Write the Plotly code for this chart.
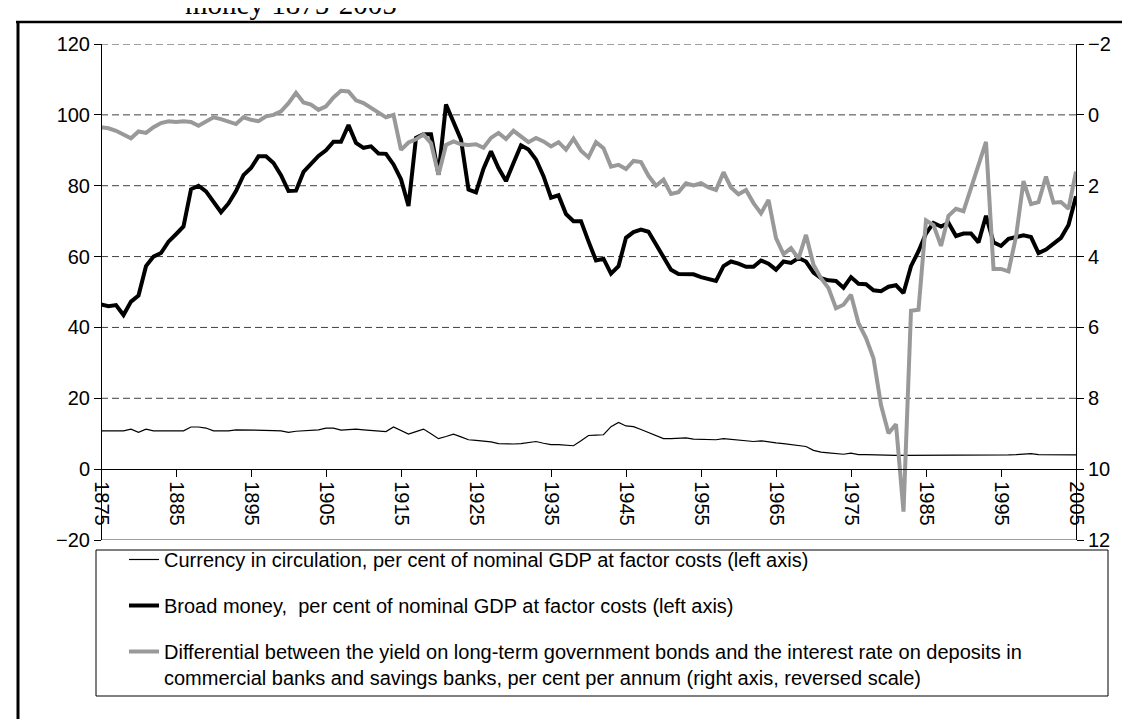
import plotly.graph_objects as go

# ---------------- data ----------------
years = list(range(1875, 2006))

currency = [
    10.8, 10.8, 10.9, 10.8, 11.3, 10.4, 11.3, 10.8, 10.8, 10.8,
    10.8, 10.8, 11.9, 11.9, 11.6, 10.8, 10.8, 10.8, 11.1, 11.1,
    11.1, 11.1, 11.1, 10.9, 10.8, 10.4, 10.7, 10.9, 11.0, 11.1,
    11.6, 11.6, 11.0, 11.1, 11.3, 11.1, 10.9, 10.8, 10.6, 11.9,
    10.9, 9.9, 10.6, 11.3, 10.0, 8.6, 9.2, 9.9, 9.1, 8.3,
    8.1, 8.0, 7.7, 7.2, 7.1, 7.1, 7.2, 7.5, 7.8, 7.3,
    6.9, 6.9, 6.8, 6.6, 8.0, 9.5, 9.6, 9.7, 12.0, 13.2,
    12.2, 12.0, 11.2, 10.4, 9.5, 8.6, 8.6, 8.8, 8.8, 8.5,
    8.4, 8.3, 8.3, 8.6, 8.4, 8.3, 8.1, 7.8, 8.0, 7.6,
    7.4, 7.2, 7.0, 6.7, 6.4, 5.3, 4.8, 4.6, 4.3, 4.2,
    4.5, 4.1, 4.1, 4.0, 4.0, 4.0, 3.9, 3.9, 3.9, 3.9,
    3.9, 3.9, 3.9, 3.9, 3.9, 3.9, 3.9, 3.8, 3.9, 4.0,
    4.0, 4.0, 4.1, 4.2, 4.4, 4.1, 4.1, 4.0, 4.0, 4.0,
    4.0,
]

broad_money = [
    46.5, 46.0, 46.3, 43.5, 47.3, 49.0, 57.3, 60.0, 61.0, 64.2,
    66.3, 68.5, 79.0, 80.0, 78.4, 75.6, 72.5, 75.0, 78.5, 83.0,
    85.0, 88.3, 88.3, 86.4, 83.0, 78.5, 78.6, 83.9, 86.0, 88.4,
    90.0, 92.4, 92.4, 97.1, 92.1, 90.7, 91.1, 89.1, 89.0, 86.0,
    81.8, 74.3, 93.5, 94.5, 94.5, 83.1, 102.9, 98.2, 93.0, 78.9,
    78.1, 84.8, 89.7, 85.0, 81.3, 86.4, 91.4, 90.2, 87.4, 82.7,
    76.6, 77.3, 72.0, 70.0, 70.0, 64.3, 58.9, 59.4, 55.2, 57.3,
    65.3, 66.9, 67.6, 67.0, 63.4, 59.6, 56.3, 55.1, 55.0, 55.0,
    54.2, 53.7, 53.1, 57.3, 58.6, 58.0, 57.1, 57.1, 58.9, 58.0,
    56.3, 58.6, 58.2, 59.6, 58.6, 55.5, 53.9, 53.3, 53.1, 51.2,
    54.2, 52.3, 52.2, 50.5, 50.2, 51.5, 51.9, 49.7, 57.3, 61.5,
    66.5, 69.5, 68.5, 69.5, 65.8, 66.5, 66.5, 64.0, 71.5, 64.0,
    63.0, 65.0, 65.5, 66.0, 65.5, 61.0, 62.0, 63.5, 65.3, 68.9,
    77.0,
]

differential = [
    0.35, 0.38, 0.45, 0.56, 0.66, 0.47, 0.51, 0.35, 0.23, 0.18,
    0.20, 0.18, 0.20, 0.31, 0.18, 0.07, 0.12, 0.20, 0.26, 0.07,
    0.14, 0.18, 0.04, 0.00, -0.10, -0.33, -0.62, -0.35, -0.29, -0.14,
    -0.24, -0.49, -0.68, -0.66, -0.41, -0.33, -0.19, -0.07, 0.07, 0.00,
    0.99, 0.78, 0.69, 0.55, 0.80, 1.69, 0.85, 0.75, 0.83, 0.85,
    0.83, 0.93, 0.65, 0.51, 0.68, 0.45, 0.61, 0.77, 0.65, 0.75,
    0.89, 0.77, 0.98, 0.67, 1.01, 1.20, 0.77, 0.94, 1.46, 1.41,
    1.53, 1.30, 1.33, 1.72, 2.00, 1.83, 2.23, 2.18, 1.93, 1.99,
    1.93, 2.05, 2.12, 1.62, 2.05, 2.24, 2.12, 2.49, 2.78, 2.40,
    3.48, 3.93, 3.76, 4.06, 3.39, 4.23, 4.61, 4.89, 5.46, 5.36,
    5.08, 5.88, 6.30, 6.87, 8.19, 8.99, 8.73, 11.20, 5.53, 5.50,
    2.98, 3.11, 3.70, 2.85, 2.65, 2.72, 2.07, 1.41, 0.76, 4.35,
    4.35, 4.42, 3.44, 1.87, 2.52, 2.46, 1.74, 2.48, 2.46, 2.65,
    1.60,
]

x_ticks = [1875, 1885, 1895, 1905, 1915, 1925, 1935, 1945, 1955, 1965, 1975, 1985, 1995, 2005]
left_ticks = [-20, 0, 20, 40, 60, 80, 100, 120]
right_ticks = [-2, 0, 2, 4, 6, 8, 10, 12]
grid_levels = [20, 40, 60, 80, 100, 120]

series_names = [
    "Currency in circulation, per cent of nominal GDP at factor costs (left axis)",
    "Broad money,\u00a0 per cent of nominal GDP at factor costs (left axis)",
    "Differential between the yield on long-term government bonds and the interest rate on deposits in<br>"
    "commercial banks and savings banks, per cent per annum (right axis, reversed scale)",
]
title_text = "money 1875-2005"

# ---------------- figure ----------------
FONT = "Liberation Sans, Arial, Helvetica, sans-serif"
W, H = 1130, 719
ML, MR, MT, MB = 93, 62, 36, 187
PW, PH = W - ML - MR, H - MT - MB


def px_x(px):
    return (px - ML) / PW


def px_y(py):
    return (H - MB - py) / PH


fig = go.Figure()
fig.add_trace(go.Scatter(
    x=years, y=currency, mode="lines", name=series_names[0], legendgroup="g1",
    line=dict(color="black", width=1.2), xaxis="x", yaxis="y"))
fig.add_trace(go.Scatter(
    x=years, y=broad_money, mode="lines", name=series_names[1], legendgroup="g2",
    line=dict(color="black", width=4), xaxis="x", yaxis="y"))
fig.add_trace(go.Scatter(
    x=years, y=differential, mode="lines", name=series_names[2], legendgroup="g3",
    line=dict(color="#999999", width=4), xaxis="x", yaxis="y2"))

shapes = []
for v in grid_levels:
    shapes.append(dict(type="line", xref="paper", yref="y", x0=0, x1=1, y0=v, y1=v,
                       line=dict(color="#404040", width=1, dash="7px,4px"), layer="below"))
# bottom edge of plot area
shapes.append(dict(type="line", xref="paper", yref="y", x0=0, x1=1, y0=-20, y1=-20,
                   line=dict(color="#404040", width=1), layer="below"))
# legend box
shapes.append(dict(type="rect", xref="paper", yref="paper",
                   x0=px_x(88), x1=px_x(1100), y0=px_y(688), y1=px_y(542),
                   line=dict(color="black", width=1), fillcolor="rgba(0,0,0,0)"))
# outer frame (top and left edges visible)
shapes.append(dict(type="line", xref="paper", yref="paper",
                   x0=px_x(8), x1=px_x(1140), y0=px_y(14), y1=px_y(14),
                   line=dict(color="black", width=2.5)))
shapes.append(dict(type="line", xref="paper", yref="paper",
                   x0=px_x(10), x1=px_x(10), y0=px_y(13), y1=px_y(730),
                   line=dict(color="black", width=3)))

tickfont = dict(family=FONT, size=20, color="black")

fig.update_layout(
    width=W, height=H,
    margin=dict(l=ML, r=MR, t=MT, b=MB, pad=0),
    paper_bgcolor="white", plot_bgcolor="white",
    font=dict(family=FONT, size=20, color="black"),
    showlegend=True,
    shapes=shapes,
    xaxis=dict(
        range=[1875, 2005], anchor="free", position=20 / 140, side="bottom",
        showline=True, linecolor="black", linewidth=1,
        ticks="outside", ticklen=7, tickcolor="black", tickwidth=1,
        tickvals=x_ticks, ticktext=[str(t) for t in x_ticks], tickangle=90,
        tickfont=tickfont, showgrid=False, zeroline=False,
    ),
    yaxis=dict(
        range=[-20, 120], anchor="free", position=0, side="left",
        showline=True, linecolor="black", linewidth=1,
        ticks="outside", ticklen=7, tickcolor="black", tickwidth=1,
        tickvals=left_ticks, tickfont=tickfont, showgrid=False, zeroline=False,
    ),
    yaxis2=dict(
        range=[12, -2], overlaying="y", anchor="free", position=1, side="right",
        showline=True, linecolor="black", linewidth=1,
        ticks="outside", ticklen=7, tickcolor="black", tickwidth=1,
        tickvals=right_ticks, tickfont=tickfont, showgrid=False, zeroline=False,
    ),
    legend=dict(
        x=px_x(116), y=px_y(532), xanchor="left", yanchor="top",
        bgcolor="rgba(0,0,0,0)", borderwidth=0,
        font=dict(family=FONT, size=20, color="black"),
        tracegroupgap=17, itemwidth=30, valign="top", traceorder="grouped",
    ),
    annotations=[dict(
        text=title_text, xref="paper", yref="paper",
        x=px_x(175), y=px_y(-4), xanchor="left", yanchor="middle",
        showarrow=False, font=dict(family="Liberation Serif, Times New Roman, serif", size=29, color="black"),
    )],
)

fig.write_html("out.html")
